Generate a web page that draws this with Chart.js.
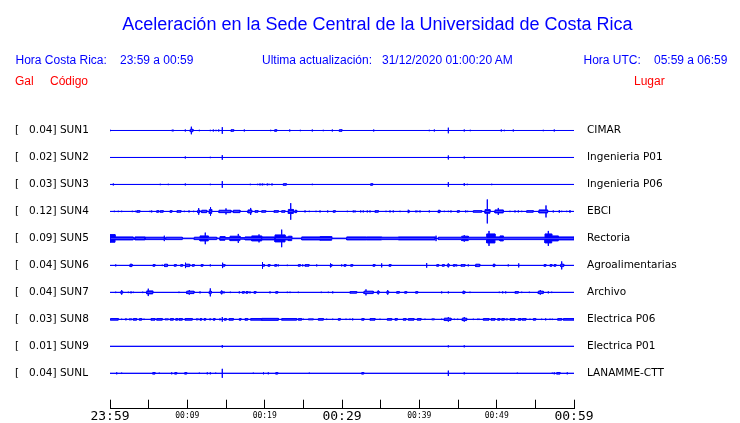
<!DOCTYPE html>
<html>
<head>
<meta charset="utf-8">
<script src="https://cdn.jsdelivr.net/npm/chart.js@4.4.1/dist/chart.umd.min.js"></script>
<style>
  html, body{ margin:0; background:#fff; overflow:hidden; }
  #wrap{ position:relative; width:740px; height:423px; overflow:hidden; }
  #wrap canvas{ position:absolute; left:0; top:0; }
  .t{ position:absolute; font-family:"Liberation Sans", Arial, sans-serif; font-size:12px; line-height:12px; white-space:pre; color:#0000ff; }
  .r{ color:#ff0000; }
  #title{ left:15px; right:0; top:14.8px; text-align:center; font-size:18px; line-height:18px; }
</style>
</head>
<body>
<div id="wrap">
  <!-- a little taller than the window: the layout keeps ~19px under the plot, the axis labels stay visible -->
  <canvas id="chart" width="740" height="428"></canvas>
  <div class="t" id="title">Aceleración en la Sede Central de la Universidad de Costa Rica</div>
  <div class="t" style="left:15.5px;top:54.1px">Hora Costa Rica:</div>
  <div class="t" style="left:120px;top:54.1px">23:59 a 00:59</div>
  <div class="t" style="left:262px;top:54.1px">Ultima actualización:</div>
  <div class="t" style="left:382px;top:54.1px">31/12/2020 01:00:20 AM</div>
  <div class="t" style="left:583.5px;top:54.1px">Hora UTC:</div>
  <div class="t" style="left:654px;top:54.1px">05:59 a 06:59</div>
  <div class="t r" style="left:15px;top:74.8px">Gal</div>
  <div class="t r" style="left:50px;top:74.8px">Código</div>
  <div class="t r" style="left:634px;top:74.8px">Lugar</div>
</div>
<script>
// station info
const stationCodes = ['SUN1','SUN2','SUN3','SUN4','SUN5','SUN6','SUN7','SUN8','SUN9','SUNL'];
const stationNames = ['CIMAR','Ingenieria P01','Ingenieria P06','EBCI','Rectoria','Agroalimentarias','Archivo','Electrica P06','Electrica P01','LANAMME-CTT'];
const peakGal = [0.04, 0.02, 0.03, 0.12, 0.09, 0.04, 0.04, 0.03, 0.01, 0.04];

// minutes after 23:59, one tick every 5 min
const timeLabels = ['23:59','','00:09','','00:19','','00:29','','00:39','','00:49','','00:59'];

// events per trace: [minute, half amplitude (gal)] = spike, [minute, half amplitude, duration] = burst
const sun1 = [[0,0.008],[7.98,0.010,0.26],[9.74,0.010],[10.38,0.017,0.35],[10.52,0.038],[11.55,0.007],[12.97,0.007],[13.36,0.010],
  [13.71,0.007],[14.06,0.010],[14.52,0.033],[15.65,0.013,0.35],[17.37,0.010],[20.78,0.007],[21.30,0.013,0.26],[23.24,0.010],
  [24.61,0.007],[26.16,0.010],[27.58,0.007],[28.75,0.010],[29.65,0.013,0.35],[34.10,0.010],[41.29,0.007],[41.94,0.010],
  [43.75,0.028],[45.81,0.010],[46.59,0.007],[50.60,0.010],[50.99,0.007],[52.15,0.010],[56.03,0.007],[57.45,0.010]];
const sun2 = [[9.74,0.010],[12.97,0.007],[14.52,0.023],[43.75,0.020],[45.81,0.010]];
const sun3 = [[0.43,0.010],[6.50,0.007],[7.54,0.007],[9.74,0.010],[12.97,0.007],[14.52,0.033],[18.14,0.007],[19.10,0.007],
  [19.40,0.010],[19.69,0.010],[19.91,0.007],[20.34,0.010],[20.56,0.007],[20.95,0.010],[22.41,0.013,0.39],[26.16,0.007],
  [33.71,0.013,0.26],[43.75,0.023],[45.81,0.013],[46.20,0.007],[49.36,0.007]];
const sun4 = [[0.56,0.007],[1.07,0.007],[1.51,0.007],[2.88,0.007],[3.32,0.007],[3.47,0.013,0.39],[5.17,0.007],[5.39,0.010],
  [6.04,0.013,0.26],[6.49,0.013,0.39],[7.76,0.013,0.26],[8.66,0.013,0.52],[9.61,0.007],[10.22,0.010],[10.82,0.007],
  [11.34,0.017,0.26],[11.47,0.033],[11.86,0.017,0.65],[12.84,0.025,0.31],[13.00,0.043],[14.09,0.017,1.55],[15.00,0.030],
  [15.94,0.017,0.87],[17.84,0.020,0.48],[18.19,0.035],[18.75,0.013,0.39],[19.62,0.013,0.52],[21.21,0.013,0.56],
  [22.20,0.013,0.43],[23.06,0.025,0.65],[23.37,0.083],[23.92,0.017,0.22],[25.22,0.010],[25.77,0.007],[26.64,0.007],
  [27.16,0.010],[28.15,0.010],[28.87,0.013,0.26],[30.69,0.007],[31.46,0.010],[31.68,0.010],[32.42,0.010],[32.75,0.010],
  [33.27,0.010],[33.62,0.010],[34.27,0.013,0.43],[35.69,0.007],[36.21,0.010],[36.63,0.010],[37.50,0.007],[38.57,0.017],
  [38.70,0.010],[39.57,0.010],[39.79,0.007],[40.09,0.010],[41.29,0.010],[42.45,0.017,0.22],[43.23,0.007],[43.75,0.007],
  [44.09,0.010],[44.91,0.013,0.26],[46.00,0.010],[46.25,0.007],[46.98,0.013,1.09],[48.49,0.023,0.65],[48.79,0.120],
  [49.78,0.020,1.07],[50.21,0.035],[51.72,0.007],[52.37,0.010],[52.80,0.010],[53.24,0.007],[53.88,0.013,0.85],
  [55.47,0.020,1.12],[56.38,0.060],[57.32,0.010],[58.10,0.013],[58.41,0.007],[59.06,0.007],[59.48,0.013]];
const sun5 = [[0,0.043,0.65],[0.65,0.020,2.37],[2.99,0.010,0.22],[3.23,0.020,1.29],[4.53,0.017,2.50],[7.02,0.027],
  [7.20,0.017,2.15],[9.35,0.008,1.55],[10.90,0.017,0.74],[11.64,0.030,1.07],[12.32,0.058],[12.71,0.017,1.09],
  [13.80,0.008,0.43],[14.22,0.023,0.65],[14.87,0.013,0.65],[15.52,0.027,1.29],[16.59,0.045],[16.81,0.013,0.65],
  [17.46,0.020,0.87],[18.32,0.030,1.29],[19.27,0.040],[19.62,0.020,0.43],[20.04,0.020,1.29],[21.34,0.040,1.29],
  [22.20,0.088],[22.63,0.020,0.43],[23.06,0.027,0.44],[23.50,0.008,1.29],[24.79,0.020,2.37],[27.16,0.023,1.51],
  [28.67,0.008,1.94],[30.61,0.020,2.59],[33.19,0.020,1.94],[35.13,0.017,2.15],[37.28,0.020,4.74],[42.16,0.027],
  [42.45,0.017,3.03],[45.48,0.027,0.85],[45.81,0.033],[46.33,0.017,2.38],[48.71,0.050,1.07],[49.01,0.075],
  [49.78,0.020,0.65],[50.43,0.030,0.43],[50.86,0.017,5.39],[56.25,0.050,0.87],[56.68,0.075],[57.12,0.030,0.85],
  [57.97,0.020,2.03]];
const sun6 = [[0.74,0.010],[2.59,0.017,0.26],[5.56,0.013,0.26],[6.76,0.007],[7.05,0.017,0.39],[8.31,0.013,0.26],
  [9.14,0.013,0.26],[9.74,0.027],[9.79,0.017,0.52],[10.64,0.013,0.26],[11.77,0.013,0.26],[12.97,0.010],[14.52,0.027],
  [14.61,0.013,0.26],[19.72,0.033],[19.72,0.013,0.26],[20.43,0.013,0.26],[21.30,0.013,0.26],[21.76,0.010],[22.93,0.007],
  [24.35,0.013,0.26],[24.92,0.010],[25.22,0.013,0.52],[26.73,0.010],[28.45,0.013,0.26],[28.54,0.020],[29.96,0.010],
  [30.26,0.013,0.26],[31.13,0.013,0.26],[34.01,0.013,0.26],[35.13,0.020],[36.08,0.013,0.26],[40.95,0.023],
  [42.25,0.013,0.26],[42.97,0.013,0.26],[43.62,0.013,0.26],[43.75,0.020],[44.39,0.013,0.26],[44.83,0.010],
  [45.39,0.013,0.52],[46.33,0.010],[47.29,0.017,0.52],[49.53,0.013,0.26],[49.66,0.017],[51.50,0.010],[52.85,0.020],
  [56.12,0.013,0.26],[56.90,0.013,0.26],[57.41,0.013,0.26],[58.28,0.017,0.39],[58.41,0.040]];
const sun7 = [[0.74,0.007],[1.38,0.013,0.26],[1.51,0.023],[2.37,0.007],[2.72,0.010],[3.01,0.007],[4.23,0.007],
  [4.75,0.020,0.78],[4.95,0.037],[8.92,0.007],[9.92,0.017,0.94],[10.25,0.023],[11.64,0.010],[12.84,0.017,0.26],
  [12.97,0.040],[14.31,0.013,0.26],[14.44,0.020],[14.74,0.010],[15.56,0.007],[16.72,0.010],[17.11,0.013,0.26],
  [17.59,0.013,0.26],[18.10,0.010],[18.62,0.013,0.26],[20.69,0.010],[21.43,0.013,0.26],[22.93,0.007],[23.28,0.007],
  [24.35,0.007],[27.32,0.007],[28.23,0.007],[28.80,0.010],[31.03,0.013,0.87],[32.84,0.017,1.20],[33.10,0.030],
  [34.56,0.013,0.26],[34.69,0.020],[35.78,0.013,0.26],[35.91,0.023],[37.07,0.013,0.34],[38.11,0.013,0.26],
  [39.53,0.013,0.26],[42.89,0.010],[43.75,0.010],[45.61,0.013,0.30],[45.74,0.017],[46.55,0.007],[50.34,0.007],
  [50.78,0.010],[51.17,0.010],[52.37,0.013,0.43],[53.24,0.007],[54.22,0.007],[55.38,0.017,0.65],[55.64,0.023],
  [56.68,0.010],[57.12,0.007]];
const sun8 = [[0.09,0.013,0.98],[1.51,0.007],[1.94,0.010,0.22],[2.46,0.010,0.35],[3.01,0.013,0.44],[3.79,0.013,0.31],
  [4.40,0.007],[5.30,0.013,0.52],[6.04,0.013,0.72],[7.11,0.010,0.43],[7.80,0.013,0.39],[8.50,0.013,0.26],[8.92,0.013,0.43],
  [9.70,0.013,0.94],[11.12,0.010,0.30],[11.64,0.013,0.22],[12.16,0.013,0.22],[12.84,0.010,0.22],[13.36,0.013,0.22],
  [14.22,0.010],[14.52,0.023],[14.78,0.013,0.26],[15.39,0.013,0.56],[16.72,0.013,0.22],[17.46,0.013,0.35],
  [18.19,0.013,1.42],[19.62,0.015,2.15],[22.20,0.013,1.94],[24.35,0.013,0.44],[25.00,0.007],[25.64,0.010,0.65],
  [26.94,0.013,0.65],[28.02,0.007],[28.80,0.007],[29.52,0.013,0.26],[30.52,0.007],[31.03,0.007],[31.38,0.010],
  [32.55,0.013,0.30],[33.62,0.013,0.65],[34.91,0.007],[35.86,0.013,0.57],[36.85,0.013,0.30],[37.93,0.013,0.35],
  [38.57,0.013,0.74],[39.74,0.013,0.48],[40.73,0.007],[41.60,0.010,0.34],[42.89,0.007],[43.23,0.017,0.87],[43.75,0.023],
  [44.52,0.007],[44.96,0.007],[45.55,0.017,0.57],[45.81,0.023],[46.98,0.007],[47.55,0.007],[47.72,0.007],
  [48.27,0.013,0.74],[49.27,0.013,0.52],[50.13,0.013,0.30],[50.65,0.013,0.34],[51.17,0.010,0.26],[51.72,0.013,0.65],
  [52.80,0.013,0.35],[53.31,0.013,0.48],[54.31,0.007],[54.74,0.013,0.31],[55.82,0.007],[56.34,0.010],[56.90,0.007],
  [57.19,0.007],[57.89,0.013,0.52],[58.62,0.013,1.38]];
const sun9 = [[14.52,0.013],[43.75,0.010],[45.81,0.010]];
const sunL = [[0.87,0.010],[1.51,0.007],[5.52,0.013,0.30],[6.37,0.007],[7.98,0.010],[8.37,0.013,0.26],[9.66,0.013,0.26],
  [11.55,0.007],[12.58,0.010],[12.97,0.010],[13.67,0.007],[14.52,0.045],[18.53,0.007],[19.85,0.010],[20.47,0.010],
  [21.43,0.013,0.26],[25.77,0.007],[32.55,0.013,0.26],[43.75,0.027],[45.81,0.010],[52.67,0.007],[57.19,0.007],
  [57.45,0.010],[57.76,0.013,0.43],[59.13,0.010]];

const traces = [sun1, sun2, sun3, sun4, sun5, sun6, sun7, sun8, sun9, sunL];

const TRACE_GAP = 0.27;   // gal between two baselines
const EDGE = 0.005;       // half the stroke, so burst outlines end where they were read
const BLUE = '#0000ff';

function levelAt(bursts, t){
  let a = 0;
  for (const [t0, amp, dur] of bursts){
    if (t >= t0 && t < t0 + dur) a = Math.max(a, amp - EDGE);
  }
  return a;
}

// step outline of one side of a trace (sign +1 upper, -1 lower)
function envelope(events, base, sign){
  const bursts = events.filter(e => e[2]);
  const spikes = events.filter(e => !e[2]);
  const cuts = new Set([0, 60]);
  bursts.forEach(([t0, , d]) => { cuts.add(t0); cuts.add(Math.min(60, +(t0 + d).toFixed(3))); });
  spikes.forEach(([t]) => cuts.add(t));
  const bp = [...cuts].sort((a, b) => a - b);
  const pts = [];
  bp.forEach((b, i) => {
    const before = i > 0 ? levelAt(bursts, (bp[i-1] + b) / 2) : 0;
    const after = i < bp.length - 1 ? levelAt(bursts, (b + bp[i+1]) / 2) : 0;
    const spike = spikes.filter(s => Math.abs(s[0] - b) < 1e-6).reduce((m, s) => Math.max(m, s[1]), 0);
    pts.push({x: b, y: base + sign * before});
    if (spike > Math.max(before, after)) pts.push({x: b, y: base + sign * spike});
    pts.push({x: b, y: base + sign * after});
  });
  return pts;
}

const baselines = traces.map((_, k) => -k * TRACE_GAP);
const datasets = [];
traces.forEach((ev, k) => {
  for (const sign of [1, -1]){
    datasets.push({
      data: envelope(ev, baselines[k], sign),
      borderColor: BLUE,
      backgroundColor: BLUE,
      borderWidth: 1,
      pointRadius: 0,
      tension: 0,
      fill: { value: baselines[k] }
    });
  }
});

const traceTicks = axis => { axis.ticks = baselines.map(v => ({ value: v })); };
const traceIndex = v => Math.round(-v / TRACE_GAP);

Chart.defaults.font.family = 'DejaVu Sans';
Chart.defaults.color = '#000';

new Chart(document.getElementById('chart').getContext('2d'), {
  type: 'line',
  data: { datasets },
  options: {
    responsive: false,
    animation: false,
    events: [],
    devicePixelRatio: 1,
    layout: { padding: { left: 15, right: 0, top: 117, bottom: 0 } },
    plugins: { legend: { display: false }, tooltip: { enabled: false } },
    scales: {
      x: {
        type: 'linear', min: 0, max: 60,
        afterFit: s => { s.height = 14.1; },
        border: { display: true, color: '#000', width: 1 },
        // negative length: tick marks point up from the axis line
        grid: { drawOnChartArea: false, drawTicks: true, tickLength: -9, color: '#000' },
        ticks: {
          stepSize: 5, autoSkip: false, maxRotation: 0, padding: 8.7, color: '#000',
          callback: v => timeLabels[Math.round(v / 5)],
          font: ctx => (ctx.tick && ctx.tick.value % 30 === 0)
            ? { family: 'DejaVu Sans Mono', size: 13 }
            : { family: 'DejaVu Sans Mono', size: 8, lineHeight: 1.8 }
        }
      },
      y: {
        position: 'left', min: -2.784, max: 0.135,
        afterFit: s => { s.width = 95; },
        afterBuildTicks: traceTicks,
        border: { display: false },
        grid: { display: false, drawTicks: false },
        ticks: {
          crossAlign: 'far', padding: 0, font: { size: 10.5 },
          callback: v => { const k = traceIndex(v); return `[   ${peakGal[k].toFixed(2)}] ${stationCodes[k]}`; }
        }
      },
      y2: {
        position: 'right', min: -2.784, max: 0.135,
        afterFit: s => { s.width = 166; },
        afterBuildTicks: traceTicks,
        border: { display: false },
        grid: { display: false, drawTicks: false },
        ticks: { padding: 13, font: { size: 10.5 }, callback: v => stationNames[traceIndex(v)] }
      }
    }
  }
});
</script>
</body>
</html>
